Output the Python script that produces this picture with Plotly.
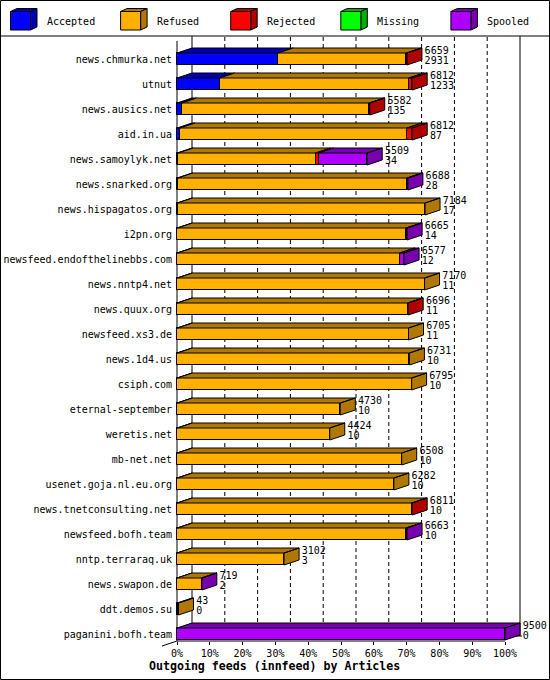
import plotly.graph_objects as go

# ---------------- data ----------------
hosts = ["news.chmurka.net", "utnut", "news.ausics.net", "aid.in.ua",
         "news.samoylyk.net", "news.snarked.org", "news.hispagatos.org",
         "i2pn.org", "newsfeed.endofthelinebbs.com", "news.nntp4.net",
         "news.quux.org", "newsfeed.xs3.de", "news.1d4.us", "csiph.com",
         "eternal-september", "weretis.net", "mb-net.net",
         "usenet.goja.nl.eu.org", "news.tnetconsulting.net",
         "newsfeed.bofh.team", "nntp.terraraq.uk", "news.swapon.de",
         "ddt.demos.su", "paganini.bofh.team"]
total_label = [6659, 6812, 5582, 6812, 5509, 6688, 7184, 6665, 6577, 7170,
               6696, 6705, 6731, 6795, 4730, 4424, 6508, 6282, 6811, 6663,
               3102, 719, 43, 9500]
accepted = [2931, 1233, 135, 87, 34, 28, 17, 14, 12, 11, 11, 11, 10, 10,
            10, 10, 10, 10, 10, 10, 3, 2, 0, 0]
refused = [3713, 5479, 5437, 6570, 3978, 6630, 7167, 6621, 6440, 7159,
           6670, 6694, 6721, 6785, 4720, 4414, 6498, 6272, 6786, 6623,
           3099, 712, 43, 0]
rejected = [15, 100, 10, 155, 87, 0, 0, 0, 0, 0, 15, 0, 0, 0, 0, 0, 0, 0,
            15, 0, 0, 0, 0, 0]
missing = [0, 0, 0, 0, 0, 0, 0, 0, 0, 0, 0, 0, 0, 0, 0, 0, 0, 0, 0, 0, 0,
           0, 0, 0]
spooled = [0, 0, 0, 0, 1410, 30, 0, 30, 125, 0, 0, 0, 0, 0, 0, 0, 0, 0, 0,
           30, 0, 5, 0, 9500]
series_names = ["Accepted", "Refused", "Rejected", "Missing", "Spooled"]
x_ticks = [0, 10, 20, 30, 40, 50, 60, 70, 80, 90, 100]
title_text = "Outgoing feeds (innfeed) by Articles"

# ---------------- style ----------------
front_colors = ["#0000FF", "#FFB000", "#FF0000", "#00FF00", "#AF00FF"]
dark_colors = ["#0000B0", "#B07800", "#B00000", "#00B000", "#7800B0"]
FONT = "DejaVu Sans Mono"
W, H = 550, 680
X0, PX_PER_PCT = 177.0, 3.28      # pixel of 0 %, pixels per percent
ROW0, ROW_PX = 634.0, 25.0        # pixel centre of bottom row, row spacing
DX = 15.0 / PX_PER_PCT            # 3-D depth, in data units
DY = 5.0 / ROW_PX
BAR_W = 12.0 / ROW_PX
LABEL_GAP = 2.7 / PX_PER_PCT


def X(px):
    return (px - X0) / PX_PER_PCT


def Y(py):
    return (ROW0 - py) / ROW_PX


series = [accepted, refused, rejected, missing, spooled]
n = len(hosts)
ypos = [n - 1 - i for i in range(n)]
scale = max(total_label)

fig = go.Figure()

# front faces (stacked bars)
for name, vals, col in zip(series_names, series, front_colors):
    fig.add_bar(y=ypos, x=[v / scale * 100 if v > 0 else None for v in vals],
                orientation="h", width=BAR_W, name=name,
                marker=dict(color=col, line=dict(color="black", width=1)),
                showlegend=False, hoverinfo="skip")

# top and side faces
faces = [([], []) for _ in series]
for i in range(n):
    cum = 0
    last = None
    yt = ypos[i] + BAR_W / 2
    yb = ypos[i] - BAR_W / 2
    for k, vals in enumerate(series):
        v = vals[i]
        if v <= 0:
            continue
        x0 = cum / scale * 100
        x1 = (cum + v) / scale * 100
        fx, fy = faces[k]
        fx += [x0, x1, x1 + DX, x0 + DX, x0, None]
        fy += [yt, yt, yt + DY, yt + DY, yt, None]
        cum += v
        last = k
    if last is not None:
        xe = cum / scale * 100
        fx, fy = faces[last]
        fx += [xe, xe + DX, xe + DX, xe, xe, None]
        fy += [yt, yt + DY, yb + DY, yb, yt, None]
for k in range(len(series)):
    fx, fy = faces[k]
    if fx:
        fig.add_scatter(x=fx, y=fy, mode="lines", fill="toself",
                        fillcolor=dark_colors[k],
                        line=dict(color="black", width=1),
                        showlegend=False, hoverinfo="skip")

# value labels
fig.add_scatter(x=[t / scale * 100 + DX + LABEL_GAP for t in total_label],
                y=[y + 0.32 for y in ypos], mode="text",
                text=[str(t) for t in total_label], textposition="middle right",
                textfont=dict(family=FONT, size=10, color="black"),
                showlegend=False, hoverinfo="skip", cliponaxis=False)
fig.add_scatter(x=[t / scale * 100 + DX + LABEL_GAP for t in total_label],
                y=[y - 0.11 for y in ypos], mode="text",
                text=[str(a) for a in accepted], textposition="middle right",
                textfont=dict(family=FONT, size=10, color="black"),
                showlegend=False, hoverinfo="skip", cliponaxis=False)

# ---------------- frame / axes decorations ----------------
shapes = []
ln = dict(color="black", width=1)
top_back, bot_back = Y(36), Y(636)
for t in x_ticks[1:-1]:
    shapes.append(dict(type="line", x0=t + DX, x1=t + DX, y0=bot_back, y1=top_back,
                       line=dict(color="black", width=1, dash="4px,3px"), layer="below"))
for t in (x_ticks[0], x_ticks[-1]):
    shapes.append(dict(type="line", x0=t + DX, x1=t + DX, y0=bot_back, y1=top_back,
                       line=ln, layer="below"))
shapes.append(dict(type="line", x0=DX, x1=X(522), y0=bot_back, y1=bot_back,
                   line=ln, layer="below"))
# front axes
shapes.append(dict(type="line", x0=0, x1=0, y0=Y(641), y1=Y(41), line=ln, layer="below"))
shapes.append(dict(type="line", x0=0, x1=100, y0=Y(641), y1=Y(641), line=ln, layer="below"))
shapes.append(dict(type="line", x0=0, x1=-DX, y0=Y(641), y1=Y(641) - DY, line=ln, layer="below"))
# outer border and legend separator
shapes.append(dict(type="rect", x0=X(0.5), x1=X(549.5), y0=Y(679.5), y1=Y(0.5), line=ln))
shapes.append(dict(type="line", x0=X(0), x1=X(550), y0=Y(36), y1=Y(36), line=ln))

# legend cubes
annotations = []
for k, name in enumerate(series_names):
    lx = 10.5 + 110.1 * k
    fx0, fx1, fy0, fy1 = lx, lx + 20, 11.5, 30
    ddx, ddy = 6.5, -3
    shapes.append(dict(type="path", path=(
        f"M{X(fx0)},{Y(fy0)} L{X(fx1)},{Y(fy0)} L{X(fx1 + ddx)},{Y(fy0 + ddy)} "
        f"L{X(fx0 + ddx)},{Y(fy0 + ddy)} Z"), fillcolor=dark_colors[k], line=ln))
    shapes.append(dict(type="path", path=(
        f"M{X(fx1)},{Y(fy0)} L{X(fx1 + ddx)},{Y(fy0 + ddy)} L{X(fx1 + ddx)},{Y(fy1 + ddy)} "
        f"L{X(fx1)},{Y(fy1)} Z"), fillcolor=dark_colors[k], line=ln))
    shapes.append(dict(type="rect", x0=X(fx0), x1=X(fx1), y0=Y(fy1), y1=Y(fy0),
                       fillcolor=front_colors[k], line=ln))
    annotations.append(dict(x=X(lx + 34), y=Y(21), text=name, showarrow=False,
                            xanchor="left", yanchor="middle",
                            font=dict(family=FONT, size=10, color="black")))

annotations.append(dict(x=X(274.5), y=Y(666), text=f"<b>{title_text}</b>",
                        showarrow=False, xanchor="center", yanchor="middle",
                        font=dict(family=FONT, size=11.6, color="black")))

fig.update_layout(
    width=W, height=H, margin=dict(l=0, r=0, t=0, b=0, pad=0),
    paper_bgcolor="white", plot_bgcolor="white",
    barmode="stack", bargap=0, showlegend=False,
    shapes=shapes, annotations=annotations,
    font=dict(family=FONT, size=10, color="black"),
    xaxis=dict(range=[X(0), X(W)], showgrid=False, zeroline=False, showline=False,
               tickvals=x_ticks, ticktext=[f"{t}%" for t in x_ticks],
               ticks="outside", ticklen=3, tickcolor="black", tickwidth=1,
               anchor="free", position=1 - 641 / H, automargin=False,
               tickfont=dict(family=FONT, size=10, color="black"), fixedrange=True),
    yaxis=dict(range=[Y(H), Y(0)], showgrid=False, zeroline=False, showline=False,
               tickvals=ypos, ticktext=hosts, ticks="", ticklabelstandoff=5,
               anchor="free", position=X0 / W, automargin=False,
               tickfont=dict(family=FONT, size=10, color="black"), fixedrange=True),
)

fig.write_html("out.html", config={"displayModeBar": False},
               post_script="document.body.style.margin='0';document.body.style.padding='0';")
